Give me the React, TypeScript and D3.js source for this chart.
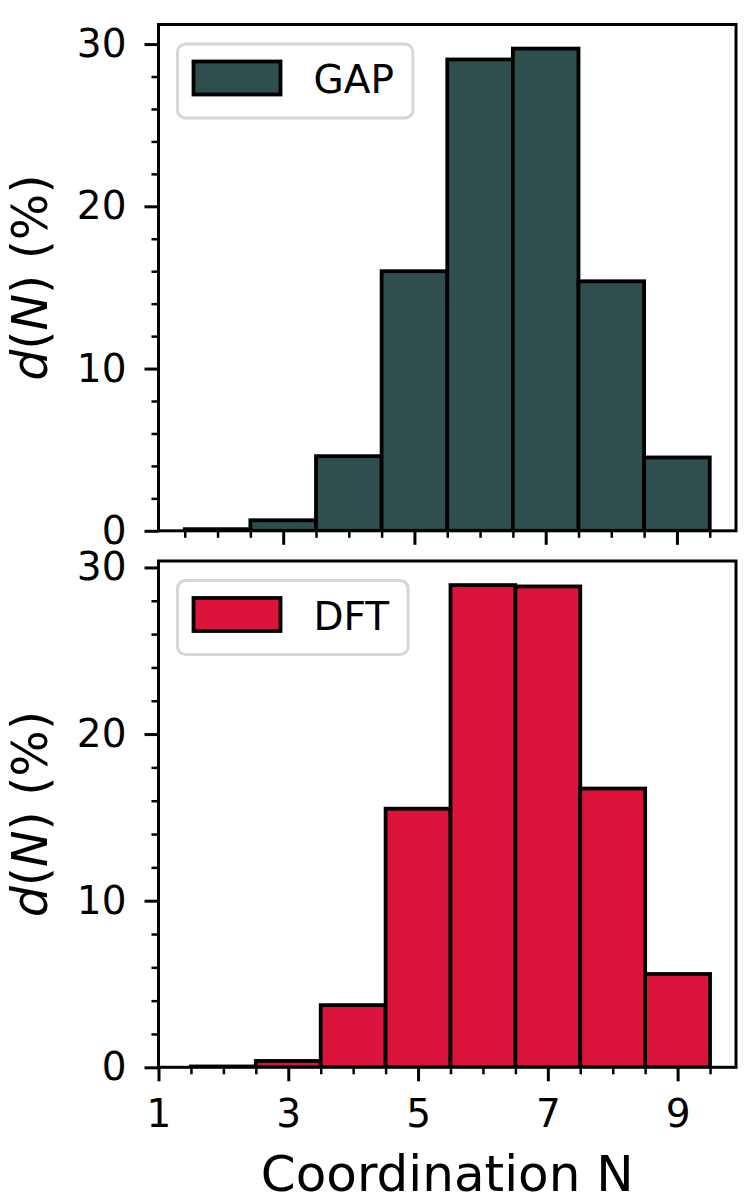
import { useEffect, useRef } from 'react';
import * as d3 from 'd3';

// histogram bins: coordination number N, bin width 1
const binCentres = [2, 3, 4, 5, 6, 7, 8, 9];
const gapValues = [0.1, 0.65, 4.6, 16.0, 29.05, 29.72, 15.38, 4.52];
const dftValues = [0.05, 0.38, 3.73, 15.52, 28.94, 28.86, 16.73, 5.6];
const topXTicks = [3, 5, 7, 9];
const bottomXTicks = [1, 3, 5, 7, 9];
const yTicks = [0, 10, 20, 30];

interface Panel {
    values: number[];
    colour: string;
    label: string;
    xDomain: [number, number];
    xTicks: number[];
    showXLabels: boolean;
    top: number;
}

const panels: Panel[] = [
    { values: gapValues, colour: '#2f4f4f', label: 'GAP', xDomain: [1.1, 9.9], xTicks: topXTicks, showXLabels: false, top: 24.5 },
    { values: dftValues, colour: '#dc143c', label: 'DFT', xDomain: [1, 9.9], xTicks: bottomXTicks, showXLabels: true, top: 561 },
];

export default function App() {
    const svgRef = useRef<SVGSVGElement>(null);

    useEffect(() => {
        if (!svgRef.current) return;
        const width = 750;
        const height = 1200;
        const left = 158.5;
        const axW = 577.5;
        const axH = 506.3;
        const font = "'DejaVu Sans', sans-serif";

        const svg = d3.select(svgRef.current);
        svg.selectAll('*').remove();
        svg.attr('width', width).attr('height', height);

        svg.append('rect').attr('width', width).attr('height', height).attr('fill', 'white');

        panels.forEach((p, i) => {
            const g = svg.append('g').attr('transform', `translate(${left},${p.top})`);

            const x = d3.scaleLinear().domain(p.xDomain).range([0, axW]);
            const yMax = (d3.max(p.values) ?? 1) * 1.05;
            const y = d3.scaleLinear().domain([0, yMax]).range([axH, 0]);

            const clipId = `clip-${i}`;
            svg.append('defs').append('clipPath').attr('id', clipId)
                .append('rect').attr('width', axW).attr('height', axH);

            // bars
            g.append('g')
                .attr('clip-path', `url(#${clipId})`)
                .selectAll('rect')
                .data(binCentres)
                .enter()
                .append('rect')
                .attr('x', d => x(d - 0.5))
                .attr('width', d => x(d + 0.5) - x(d - 0.5))
                .attr('y', (_, j) => y(p.values[j]))
                .attr('height', (_, j) => y(0) - y(p.values[j]))
                .attr('fill', p.colour)
                .attr('stroke', 'black')
                .attr('stroke-width', 3.8);

            // minor ticks
            const xMinor = d3.range(Math.ceil(p.xDomain[0] * 2) / 2, p.xDomain[1], 0.5)
                .filter(v => !p.xTicks.includes(v));
            const yMinor = d3.range(0, yMax, 2).filter(v => v % 10 !== 0);

            const minorX = g.append('g')
                .attr('transform', `translate(0,${axH})`)
                .call(d3.axisBottom(x).tickValues(xMinor).tickSize(7).tickSizeOuter(0).tickFormat(() => ''));
            const minorY = g.append('g')
                .call(d3.axisLeft(y).tickValues(yMinor).tickSize(7).tickSizeOuter(0).tickFormat(() => ''));
            [minorX, minorY].forEach(a => {
                a.select('.domain').remove();
                a.selectAll('.tick line').attr('stroke', 'black').attr('stroke-width', 2.5);
            });

            // major ticks
            const majorX = g.append('g')
                .attr('transform', `translate(0,${axH})`)
                .call(d3.axisBottom(x).tickValues(p.xTicks).tickSize(14).tickSizeOuter(0).tickPadding(18)
                    .tickFormat(d => (p.showXLabels ? String(d) : '')));
            const majorY = g.append('g')
                .call(d3.axisLeft(y).tickValues(yTicks).tickSize(14).tickSizeOuter(0).tickPadding(18)
                    .tickFormat(d => String(d)));
            [majorX, majorY].forEach(a => {
                a.select('.domain').remove();
                a.selectAll('.tick line').attr('stroke', 'black').attr('stroke-width', 3);
                a.selectAll('.tick text')
                    .attr('fill', 'black')
                    .attr('font-size', '39px')
                    .attr('font-family', font);
            });

            // spines
            g.append('rect')
                .attr('width', axW)
                .attr('height', axH)
                .attr('fill', 'none')
                .attr('stroke', 'black')
                .attr('stroke-width', 3);

            // legend
            const lg = g.append('g').attr('transform', 'translate(19,19.5)');
            const box = lg.append('rect')
                .attr('height', 74)
                .attr('rx', 8)
                .attr('fill', 'white')
                .attr('fill-opacity', 0.8)
                .attr('stroke', '#d6d6d6')
                .attr('stroke-width', 3);
            lg.append('rect')
                .attr('x', 16)
                .attr('y', 17.5)
                .attr('width', 87)
                .attr('height', 33)
                .attr('fill', p.colour)
                .attr('stroke', 'black')
                .attr('stroke-width', 3.8);
            const lt = lg.append('text')
                .attr('x', 136)
                .attr('y', 49)
                .attr('font-size', '39px')
                .attr('font-family', font)
                .attr('fill', 'black')
                .text(p.label);
            const tw = (lt.node() as SVGTextElement).getComputedTextLength();
            box.attr('width', 136 + tw + 19);

            // y label
            const yl = svg.append('text')
                .attr('transform', `translate(47,${p.top + axH / 2}) rotate(-90)`)
                .attr('text-anchor', 'middle')
                .attr('font-size', '49px')
                .attr('font-family', font)
                .attr('fill', 'black');
            yl.append('tspan').attr('font-style', 'italic').text('d');
            yl.append('tspan').text('(');
            yl.append('tspan').attr('font-style', 'italic').text('N');
            yl.append('tspan').text(') (%)');
        });

        // x label
        svg.append('text')
            .attr('x', left + axW / 2)
            .attr('y', 1191)
            .attr('text-anchor', 'middle')
            .attr('font-size', '50px')
            .attr('font-family', font)
            .attr('fill', 'black')
            .text('Coordination N');
    }, []);

    return (
        <svg ref={svgRef} style={{ position: 'absolute', left: 0, top: 0, display: 'block' }} />
    );
}
